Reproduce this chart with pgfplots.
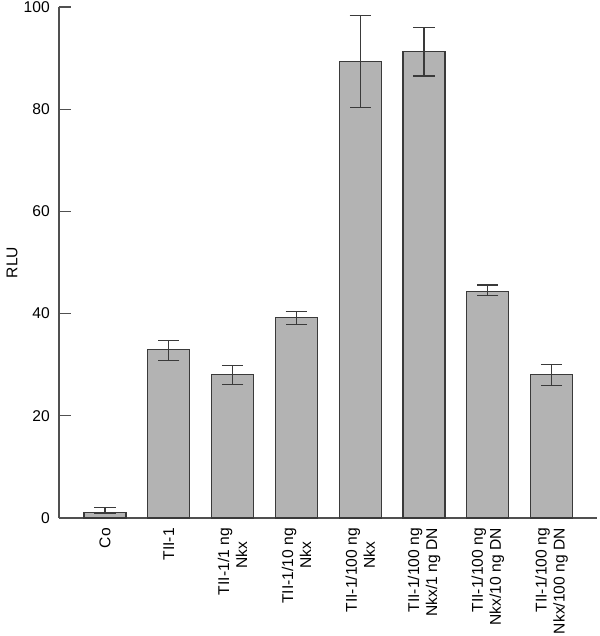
\documentclass[border=0pt]{standalone}
\usepackage{fontspec}
\setmainfont{Liberation Sans}
\usepackage{pgfplots}
\usepackage{pgfplotstable}
\pgfplotsset{compat=1.18}
\definecolor{barfill}{HTML}{B3B3B3}
\definecolor{baredge}{HTML}{3A3A3A}
\definecolor{axisgray}{HTML}{505050}
\pgfplotstableread{
x y yp ym
0 1.0 1.1 0.1
1 32.9 1.8 2.1
2 28.1 1.8 1.9
3 39.2 1.3 1.3
4 89.3 9.0 9.0
5 91.3 4.7 4.8
6 44.4 1.2 0.9
7 28.0 2.1 2.0
}\datatable
\begin{document}
\begin{tikzpicture}[font=\fontsize{11.7}{13.5}\selectfont]
\useasboundingbox (-44.25pt,-88.5pt) rectangle (405.75pt,388.5pt);
\begin{axis}[
  scale only axis,
  width=403.5pt, height=383.25pt,
  at={(0,0)}, anchor=south west,
  xmin=-0.721, xmax=7.712,
  ymin=0, ymax=100,
  axis x line=bottom, axis y line=left,
  axis line style={-, axisgray, line width=0.8pt},
  ytick={0,20,40,60,80,100},
  tick align=inside,
  major tick length=9pt,
  ytick style={axisgray, line width=0.8pt},
  xtick={0,1,2,3,4,5,6,7},
  xtick style={draw=none},
  xticklabels={Co, TII-1, {TII-1/1 ng\\Nkx\hspace*{0.85em}}, {TII-1/10 ng\\Nkx\hspace*{0.85em}}, {TII-1/100 ng\\Nkx\hspace*{0.85em}}, {TII-1/100 ng\\Nkx/1 ng DN}, {TII-1/100 ng\\Nkx/10 ng DN}, {TII-1/100 ng\\Nkx/100 ng DN}},
  xticklabel style={rotate=90, anchor=east, align=right, inner sep=0pt, xshift=-7.5pt},
  yticklabel style={anchor=east, inner sep=0pt, xshift=-6.75pt},
  /pgf/number format/assume math mode=true,
  ylabel={RLU},
  ylabel style={at={(axis description cs:-0.0874,0.5)}, anchor=center, rotate=0},
  every tick label/.append style={font=\fontsize{11.7}{13.5}\selectfont},
  clip=false,
]
\addplot[ybar, bar width=0.658, fill=barfill, draw=baredge, line width=0.8pt,
  error bars/.cd, y dir=both, y explicit,
  error bar style={line width=0.8pt, color=baredge},
  error mark options={rotate=90, mark size=8pt, line width=0.8pt, color=baredge}]
  table[x=x, y=y, y error plus=yp, y error minus=ym] {\datatable};
\end{axis}
\end{tikzpicture}
\end{document}
